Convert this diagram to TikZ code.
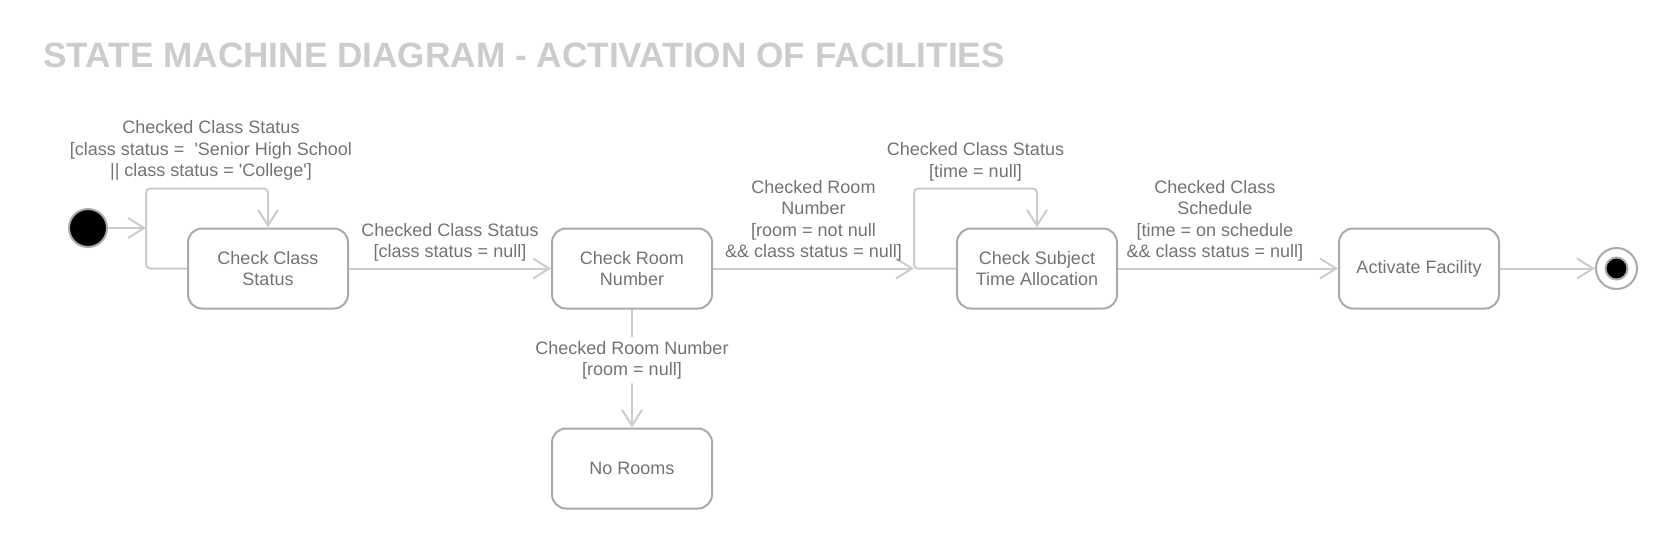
\documentclass[tikz,border=0pt]{standalone}
\usepackage{fontspec}
\setmainfont{Liberation Sans}
\usetikzlibrary{arrows.meta, positioning}
\definecolor{boxline}{RGB}{170,170,170}
\definecolor{wireline}{RGB}{204,204,204}
\definecolor{labeltext}{RGB}{115,115,115}
\definecolor{titletext}{RGB}{204,204,204}

\begin{document}
\begin{tikzpicture}[x=0.5pt, y=-0.5pt,
        state/.style={draw=boxline, line width=1pt, rounded corners=7pt, fill=white, minimum width=80pt, minimum height=40pt, align=center, text=labeltext, font=\fontsize{9}{10.75}\selectfont},
        trans/.style={draw=wireline, line width=1pt, rounded corners=2pt, -{Straight Barb[length=8pt, width=10pt, line width=1pt]}},
        guard/.style={text=labeltext, font=\fontsize{9}{10.75}\selectfont, align=center, inner sep=2pt}]
        \useasboundingbox (0,0) rectangle (1676,548);

        \node[anchor=west, text=titletext, font=\bfseries\fontsize{17.6}{21}\selectfont, inner sep=0pt] (title) at (43,55) {STATE MACHINE DIAGRAM - ACTIVATION OF FACILITIES};

        % states
        \node[state] (ccs) at (268,268.5) {Check Class\\Status};
        \node[state, right=101pt of ccs] (crn) {Check Room\\Number};
        \node[state, right=121.5pt of crn] (csta) {Check Subject\\Time Allocation};
        \node[state, right=110pt of csta] (af) {Activate Facility};
        \node[state, below=59pt of crn] (nr) {No Rooms};

        % pseudo states
        \node[circle, draw=boxline, line width=1pt, fill=black, minimum size=19pt, inner sep=0pt] (init) at (88,228) {};
        \node[circle, draw=boxline, line width=1pt, fill=white, minimum size=20.5pt, inner sep=0pt, right=47.5pt of af] (final) {};
        \node[circle, draw=boxline, line width=1pt, fill=black, minimum size=11pt, inner sep=0pt] (finalin) at (final) {};

        % self loops
        \draw[trans] (ccs.west) -- ++(-41,0) coordinate (ccsloop) -- ++(0,-80)
            -| node[guard, pos=0.25, above, yshift=1.4pt, xshift=2pt] {Checked Class Status\\{}[class status =~~\textquotesingle Senior High School\\ || class status = \textquotesingle College\textquotesingle]} (ccs.north);
        \draw[trans] (csta.west) -- ++(-42,0) coordinate (cstaloop) -- ++(0,-80)
            -| node[guard, pos=0.25, above, yshift=1.2pt] {Checked Class Status\\{}[time = null]} (csta.north);

        % transitions
        \draw[trans] (init) -- (init -| ccsloop);
        \draw[trans] (ccs) -- node[guard, above, yshift=1pt] {Checked Class Status\\{}[class status = null]} (crn);
        \draw[trans] (crn) -- node[guard, above, yshift=1pt] {Checked Room\\Number\\{}[room = not null\\\&\& class status = null]} (crn -| cstaloop);
        \draw[trans] (csta) -- node[guard, above, yshift=1pt, pos=0.44] {Checked Class\\Schedule\\{}[time = on schedule\\\&\& class status = null]} (af);
        \draw[trans] (af) -- (final);
        \draw[trans] (crn) -- node[guard, fill=white, pos=0.43] {Checked Room Number\\{}[room = null]} (nr);
    \end{tikzpicture}
\end{document}
